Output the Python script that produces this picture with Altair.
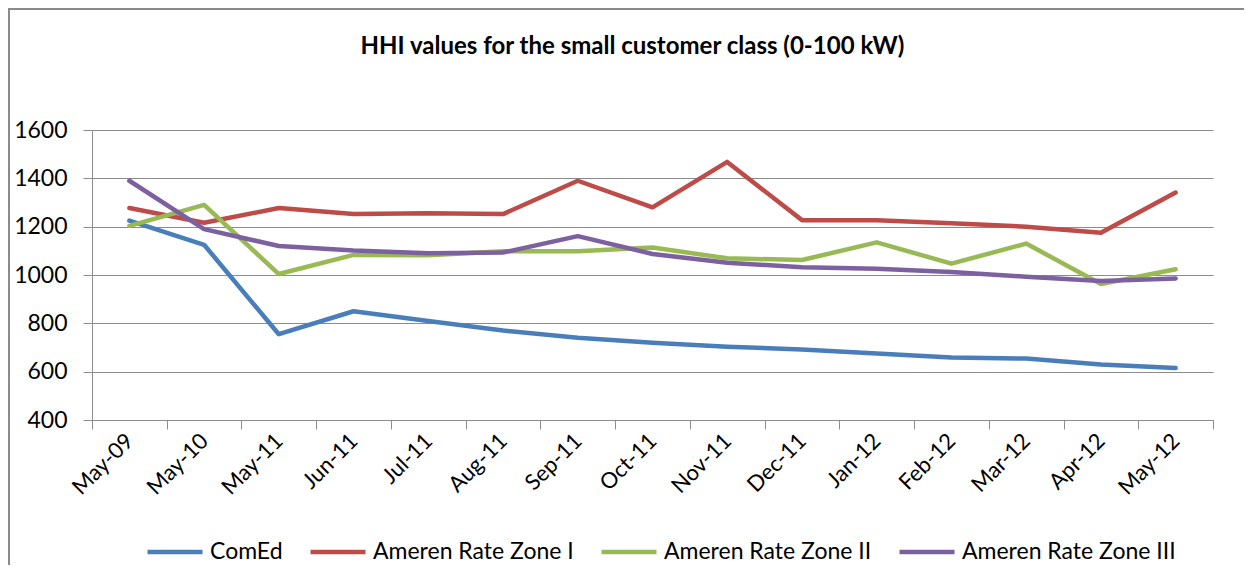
import altair as alt
import pandas as pd

months = ["May-09", "May-10", "May-11", "Jun-11", "Jul-11", "Aug-11", "Sep-11",
          "Oct-11", "Nov-11", "Dec-11", "Jan-12", "Feb-12", "Mar-12", "Apr-12", "May-12"]
comed = [1225, 1125, 755, 850, 810, 770, 740, 720, 703, 692, 675, 659, 654, 630, 615]
zone1 = [1277, 1216, 1277, 1252, 1256, 1252, 1390, 1280, 1468, 1227, 1227, 1214, 1200, 1175, 1341]
zone2 = [1203, 1290, 1004, 1083, 1082, 1098, 1098, 1114, 1069, 1062, 1135, 1047, 1130, 963, 1024]
zone3 = [1390, 1190, 1120, 1101, 1090, 1093, 1161, 1087, 1051, 1032, 1026, 1012, 993, 975, 986]
series_names = ["ComEd", "Ameren Rate Zone I", "Ameren Rate Zone II", "Ameren Rate Zone III"]
series_colors = ["#4A7EBB", "#BE4B48", "#98B954", "#7D60A0"]
y_ticks = [400, 600, 800, 1000, 1200, 1400, 1600]

rows = []
for name, vals in zip(series_names, [comed, zone1, zone2, zone3]):
    for i, (m, v) in enumerate(zip(months, vals)):
        rows.append({"month": m, "idx": i, "series": name, "value": v})
df = pd.DataFrame(rows)

FONT = "Lato"
GRID = "#8C8C8C"

lines = alt.Chart(df).mark_line(strokeWidth=4.5, strokeJoin="round", strokeCap="round").encode(
    x=alt.X("month:N", sort=months, bandPosition=0.5,
            scale=alt.Scale(type="band", paddingInner=0, paddingOuter=0),
            axis=alt.Axis(title=None, tickBand="extent", labelAngle=-45, labelAlign="right",
                          labelBaseline="middle", labelFont=FONT, labelFontSize=22,
                          labelColor="black", labelPadding=8, tickSize=9, tickColor=GRID,
                          domainColor=GRID, grid=False, labelOverlap=False)),
    y=alt.Y("value:Q", scale=alt.Scale(domain=[400, 1600], nice=False, zero=False),
            axis=alt.Axis(title=None, values=y_ticks, format="d", labelFont=FONT,
                          labelFontSize=23, labelColor="black", labelPadding=16, tickSize=9,
                          tickColor=GRID, domainColor=GRID, gridColor=GRID, grid=True)),
    color=alt.Color("series:N", sort=series_names,
                    scale=alt.Scale(domain=series_names, range=series_colors),
                    legend=alt.Legend(title=None, orient="none", direction="horizontal",
                                      legendX=53, legendY=392, symbolType="stroke",
                                      symbolSize=3025, symbolStrokeWidth=4.5,
                                      labelFont=FONT, labelFontSize=23, labelColor="black",
                                      labelLimit=500, columnPadding=18, labelOffset=5)),
    detail="series:N",
    order="idx:Q",
)

border = alt.Chart(pd.DataFrame({"a": [0]})).mark_rect(
    fill="transparent", stroke="#8A8A8A", strokeWidth=2).encode(
    x=alt.value(-83), x2=alt.value(1200), y=alt.value(-121), y2=alt.value(500))

chart = alt.layer(border, lines).properties(
    width=1121, height=290,
    title=alt.TitleParams(text="HHI values for the small customer class (0-100 kW)",
                          font=FONT, fontSize=24, fontWeight="bold", color="black",
                          anchor="middle", dx=-20, dy=55),
    padding={"left": 84, "top": 122, "right": 31, "bottom": 145},
    autosize=alt.AutoSizeParams(type="none"),
).configure_view(stroke=None)

chart.save("out.html", embed_options={"renderer": "svg", "actions": False})
